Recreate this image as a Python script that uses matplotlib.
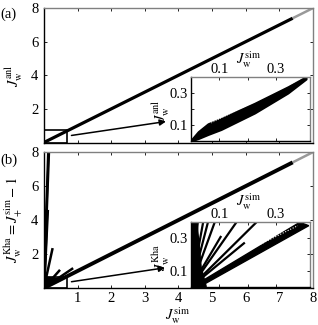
import matplotlib
matplotlib.use('Agg')
import matplotlib.pyplot as plt
import matplotlib.patches as patches

plt.rcParams['font.family'] = ['Liberation Serif', 'DejaVu Serif']
plt.rcParams['mathtext.fontset'] = 'stix'
plt.rcParams['font.size'] = 10.5

# ---- data ----
# panel (a): analytic vs simulated, almost y = x
line_a_x = [0.0, 7.4]
line_a_y = [0.0, 7.4]
tail_a_x = [7.4, 8.0]
tail_a_y = [7.4, 8.0]

# inset (a): band of points near the diagonal
band_a_x = [0.0, 0.003, 0.024, 0.059, 0.106, 0.225, 0.343, 0.408]
band_a_lo = [0.0, 0.0, 0.012, 0.038, 0.070, 0.174, 0.300, 0.389]
band_a_hi = [0.0, 0.014, 0.058, 0.108, 0.142, 0.238, 0.342, 0.406]
gap_a_x = [0.071, 0.39]
gap_a_y = [0.112, 0.392]

# panel (b): Khazali estimate, fan of branches from the origin
line_b_x = [0.0, 7.4]
line_b_y = [0.0, 7.4]
tail_b_x = [7.4, 8.0]
tail_b_y = [7.4, 8.0]
bar_b_xend = [0.03, 0.06, 0.09, 0.11]
bar_b_yend = [4.6, 4.6, 4.6, 4.6]
fan_b_xend = [0.13, 0.15, 0.26, 0.48, 0.87]
fan_b_yend = [8.0, 8.0, 2.35, 1.07, 1.17]
blob_b_x = [0.0, 0.55, 0.45, 0.2, 0.0]
blob_b_y = [0.0, 0.45, 0.6, 0.65, 0.7]

# inset (b): fan of branches
fan_in_xend = [0.006, 0.014, 0.023, 0.042, 0.059, 0.083, 0.16, 0.231, 0.106, 0.19]
fan_in_yend = [0.4, 0.4, 0.4, 0.4, 0.4, 0.4, 0.4, 0.4, 0.315, 0.274]
band_b_x = [0.0, 0.035, 0.385, 0.417, 0.03]
band_b_y = [0.0, 0.032, 0.40, 0.379, 0.0]
wedge_b_x = [0.0, 0.053, 0.035, 0.02, 0.0]
wedge_b_y = [0.0, 0.0, 0.12, 0.4, 0.4]
gap_b_x = [0.183, 0.378]
gap_b_y = [0.21, 0.379]

main_ticks = [0, 1, 2, 3, 4, 5, 6, 7, 8]
inset_ticks = [0.1, 0.2, 0.3]
inset_labels = ['0.1', '', '0.3']

fig = plt.figure(figsize=(3.18, 3.25), dpi=100)


def style_main(ax, xlabels):
    ax.set_xlim(0, 8)
    ax.set_ylim(0, 8)
    ax.set_xticks(main_ticks)
    ax.set_yticks([0, 2, 4, 6, 8])
    ax.set_yticklabels(['', '2', '4', '6', '8'])
    if xlabels:
        ax.set_xticklabels([''] + [str(t) for t in main_ticks[1:]])
    else:
        ax.set_xticklabels([])
    ax.tick_params(direction='in', top=True, right=True, length=2.5, width=0.6, pad=4)
    ax.tick_params(axis='x', pad=3)
    for s in ['top', 'right']:
        ax.spines[s].set_color('0.5')
    for s in ax.spines.values():
        s.set_linewidth(1.0)


def style_inset(ax):
    ax.set_xlim(0, 0.42)
    ax.set_ylim(0, 0.4)
    ax.set_xticks(inset_ticks)
    ax.set_xticklabels(inset_labels)
    ax.set_yticks(inset_ticks)
    ax.set_yticklabels(inset_labels)
    ax.xaxis.tick_top()
    ax.tick_params(direction='in', bottom=True, top=True, left=True, right=True,
                   labelbottom=False, labeltop=True, length=2, width=0.6, pad=1)
    ax.tick_params(axis='y', pad=2.5)
    for s in ['top', 'right']:
        ax.spines[s].set_color('0.5')
    for s in ax.spines.values():
        s.set_linewidth(1.0)


# ---------------- panel (a) ----------------
ax_a = fig.add_axes([0.138, 0.5615, 0.846, 0.4135])
ax_a.plot(line_a_x, line_a_y, color='black', lw=2.3, solid_capstyle='butt')
ax_a.plot(tail_a_x, tail_a_y, color='0.6', lw=1.8, solid_capstyle='butt')
ax_a.add_patch(patches.Rectangle((0, 0), 0.7, 0.77, fill=False, lw=1.2, ec='black'))
ax_a.annotate('', xy=(3.63, 1.25), xytext=(0.82, 0.42),
              arrowprops=dict(arrowstyle='-|>', color='black', lw=1.1,
                              mutation_scale=9, shrinkA=0, shrinkB=0))
style_main(ax_a, False)
ax_a.set_ylabel(r'$J_{\rm w}^{\rm anl}$')
ax_a.yaxis.set_label_coords(-0.07, 0.5)
fig.text(0.027, 0.957, '(a)', ha='center', va='center', fontsize=10.5)

ins_a = fig.add_axes([0.6016, 0.567, 0.372, 0.195])
ins_a.fill_between(band_a_x, band_a_lo, band_a_hi, color='black', lw=1.2, ec='black')
ins_a.plot(gap_a_x, gap_a_y, color='white', lw=0.6, ls=(0, (1, 2)))
style_inset(ins_a)
ins_a.set_xlabel(r'$J_{\rm w}^{\rm sim}$')
ins_a.xaxis.set_label_position('top')
ins_a.xaxis.set_label_coords(0.48, 1.22)
ins_a.set_ylabel(r'$J_{\rm w}^{\rm anl}$')
ins_a.yaxis.set_label_coords(-0.16, 0.48)

# ---------------- panel (b) ----------------
ax_b = fig.add_axes([0.138, 0.1138, 0.846, 0.418])
ax_b.fill(blob_b_x, blob_b_y, color='black', lw=0)
for xe, ye in zip(bar_b_xend, bar_b_yend):
    ax_b.plot([0, xe], [0, ye], color='black', lw=2.2, solid_capstyle='butt')
for xe, ye in zip(fan_b_xend, fan_b_yend):
    ax_b.plot([0, xe], [0, ye], color='black', lw=1.8, solid_capstyle='butt')
ax_b.plot(line_b_x, line_b_y, color='black', lw=2.8, solid_capstyle='butt')
ax_b.plot(tail_b_x, tail_b_y, color='0.6', lw=1.8, solid_capstyle='butt')
ax_b.add_patch(patches.Rectangle((0, 0), 0.7, 0.67, fill=False, lw=1.2, ec='black'))
ax_b.annotate('', xy=(3.6, 1.19), xytext=(0.82, 0.37),
              arrowprops=dict(arrowstyle='-|>', color='black', lw=1.1,
                              mutation_scale=9, shrinkA=0, shrinkB=0))
style_main(ax_b, True)
ax_b.set_ylabel(r'$J_{\rm w}^{\rm Kha} = J_{+}^{\rm sim} - 1$')
ax_b.yaxis.set_label_coords(-0.07, 0.5)
ax_b.set_xlabel(r'$J_{\rm w}^{\rm sim}$')
ax_b.xaxis.set_label_coords(0.498, -0.125)
fig.text(0.027, 0.508, '(b)', ha='center', va='center', fontsize=10.5)

ins_b = fig.add_axes([0.6016, 0.118, 0.372, 0.198])
ins_b.fill(band_b_x, band_b_y, color='black', lw=1.0)
ins_b.fill(wedge_b_x, wedge_b_y, color='black', lw=1.0)
for xe, ye in zip(fan_in_xend, fan_in_yend):
    ins_b.plot([0, xe], [0, ye], color='black', lw=1.6, solid_capstyle='butt')
ins_b.plot(gap_b_x, gap_b_y, color='white', lw=0.8, ls=(0, (1, 1.5)))
style_inset(ins_b)
ins_b.set_xlabel(r'$J_{\rm w}^{\rm sim}$')
ins_b.xaxis.set_label_position('top')
ins_b.xaxis.set_label_coords(0.48, 1.25)
ins_b.set_ylabel(r'$J_{\rm w}^{\rm Kha}$')
ins_b.yaxis.set_label_coords(-0.16, 0.46)

fig.savefig('out.png', dpi=100)
